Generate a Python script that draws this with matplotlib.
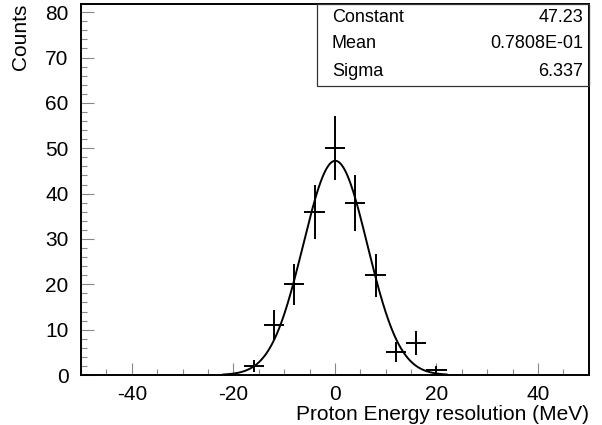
import matplotlib
matplotlib.use("Agg")
import matplotlib.pyplot as plt
import numpy as np
from matplotlib.ticker import MultipleLocator

plt.rcParams["font.family"] = ["Liberation Sans", "DejaVu Sans"]
plt.rcParams["axes.unicode_minus"] = False

# histogram bins (bin centres, MeV) and counts
bin_centres = [-16, -12, -8, -4, 0, 4, 8, 12, 16, 20]
counts = [2, 11, 20, 36, 50, 38, 22, 5, 7, 1]
bin_half_width = 2.0

# gaussian fit parameters
fit_names = ["Constant", "Mean", "Sigma"]
fit_labels = ["47.23", "0.7808E-01", "6.337"]
fit_const, fit_mean, fit_sigma = 47.23, 0.07808, 6.337
fit_range = (-22, 22)

fig = plt.figure(figsize=(6.02, 4.25), dpi=100)
ax = fig.add_axes([0.1346, 0.1176, 0.8434, 0.873])

x = np.array(bin_centres, dtype=float)
y = np.array(counts, dtype=float)
ax.errorbar(x, y, xerr=bin_half_width, yerr=np.sqrt(y), fmt="none",
            ecolor="black", elinewidth=1.4, capsize=0, zorder=3)

xf = np.linspace(fit_range[0], fit_range[1], 400)
ax.plot(xf, fit_const * np.exp(-0.5 * ((xf - fit_mean) / fit_sigma) ** 2),
        color="black", lw=1.4, zorder=2)

ax.set_xlim(-50, 50)
ax.set_ylim(0, 81.8)
ax.xaxis.set_major_locator(MultipleLocator(20))
ax.xaxis.set_minor_locator(MultipleLocator(5))
ax.yaxis.set_major_locator(MultipleLocator(10))
ax.yaxis.set_minor_locator(MultipleLocator(2))
ax.tick_params(which="both", direction="in", color="#888888", labelsize=15,
               top=False, right=False)
ax.tick_params(axis="x", pad=7)
ax.tick_params(axis="y", pad=9)
ax.tick_params(which="major", length=9, width=0.8)
ax.tick_params(which="minor", length=4.5, width=0.8)
for sp in ax.spines.values():
    sp.set_linewidth(1.4)

ax.set_ylabel("Counts", fontsize=15, loc="top")
ax.yaxis.set_label_coords(-0.1, 1.0)
ax.set_xlabel("Proton Energy resolution (MeV)", fontsize=15, loc="right", labelpad=1)

# stats box in the top right corner
bx0, by0 = 317, 86  # pixel coords of box left / bottom
fig_w, fig_h = 602, 425
box = plt.Rectangle((bx0 / fig_w, 1 - by0 / fig_h), 589 / fig_w - bx0 / fig_w,
                    by0 / fig_h - 4 / fig_h, transform=fig.transFigure,
                    fill=False, lw=0.9, color="#333333", zorder=5)
fig.add_artist(box)
for i, (n, v) in enumerate(zip(fit_names, fit_labels)):
    yy = 1 - (17 + 27 * i) / fig_h
    fig.text(332 / fig_w, yy, n, fontsize=13, ha="left", va="center")
    fig.text(583 / fig_w, yy, v, fontsize=13, ha="right", va="center")

fig.savefig("out.png", dpi=100, facecolor="white")
